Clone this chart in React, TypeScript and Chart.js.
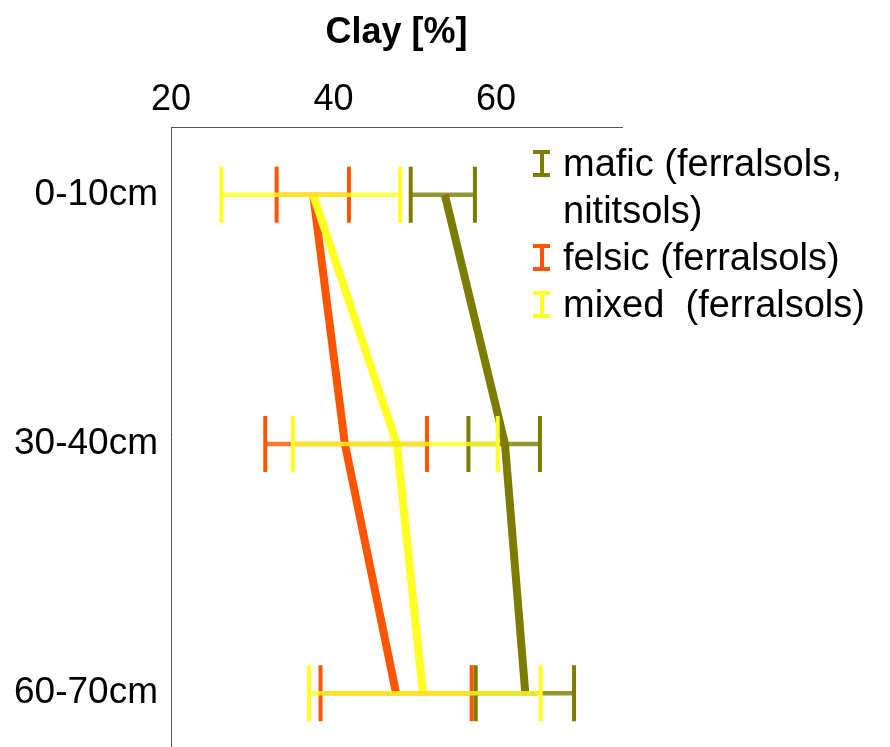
import React, { useEffect, useRef } from 'react';
import { Chart, registerables } from 'chart.js';

Chart.register(...registerables);

const depthLabels = ['0-10cm', '30-40cm', '60-70cm'];
const clayTicks = [20, 40, 60];
const depthTickIndex = [0, 1, 2];

const maficMean = [53.7, 61.1, 63.6];
const maficLow = [49.5, 56.6, 57.5];
const maficHigh = [57.4, 65.4, 69.6];

const felsicMean = [37.5, 41.4, 47.7];
const felsicLow = [33.0, 31.6, 38.4];
const felsicHigh = [41.9, 51.5, 57.0];

const mixedMean = [37.5, 47.8, 51.0];
const mixedLow = [26.2, 35.0, 37.0];
const mixedHigh = [48.2, 60.2, 65.5];

const legendLines = ['mafic (ferralsols,', 'nititsols)', 'felsic (ferralsols)', 'mixed  (ferralsols)'];

const OLIVE = '#7C7C00';
const ORANGE = '#FF5500';
const YELLOW = '#FFFF22';

const FONT = "'Liberation Sans', Arial, sans-serif";

export default function App() {
  const ref = useRef<HTMLCanvasElement>(null);

  useEffect(() => {
    const errorBars = {
      id: 'errorBars',
      afterDatasetsDraw(chart: any) {
        const ctx = chart.ctx;
        const xs = chart.scales.x;
        const ys = chart.scales.y;
        const drawOrder = [1, 0, 2];
        ctx.save();
        drawOrder.forEach((di) => {
          const ds: any = chart.data.datasets[di];
          const lows: number[] = ds.errLow;
          const highs: number[] = ds.errHigh;
          lows.forEach((lo, i) => {
            const y = ys.getPixelForValue(i);
            const xl = xs.getPixelForValue(lo);
            const xh = xs.getPixelForValue(highs[i]);
            ctx.strokeStyle = ds.borderColor;
            ctx.lineCap = 'butt';
            ctx.globalAlpha = 0.8;
            ctx.lineWidth = 4.5;
            ctx.beginPath();
            ctx.moveTo(xl, y);
            ctx.lineTo(xh, y);
            ctx.stroke();
            ctx.globalAlpha = 1;
            ctx.lineWidth = 4;
            ctx.beginPath();
            ctx.moveTo(xl, y - 28);
            ctx.lineTo(xl, y + 28);
            ctx.moveTo(xh, y - 28);
            ctx.lineTo(xh, y + 28);
            ctx.stroke();
          });
        });
        ctx.restore();
      },
    };

    const mk = (label: string, mean: number[], lo: number[], hi: number[], color: string, order: number) => ({
      label,
      data: mean.map((m, i) => ({ x: m, y: i })),
      borderColor: color,
      backgroundColor: color,
      borderWidth: 8,
      pointRadius: 0,
      pointHoverRadius: 0,
      tension: 0,
      fill: false,
      borderJoinStyle: 'round',
      order,
      errLow: lo,
      errHigh: hi,
    });

    const zeroPad = (s: any) => {
      s.paddingTop = 0;
      s.paddingBottom = 0;
      s.paddingLeft = 0;
      s.paddingRight = 0;
    };

    const chart = new Chart(ref.current as HTMLCanvasElement, {
      type: 'line',
      data: {
        datasets: [
          mk('mafic (ferralsols, nititsols)', maficMean, maficLow, maficHigh, OLIVE, 2),
          mk('felsic (ferralsols)', felsicMean, felsicLow, felsicHigh, ORANGE, 1),
          mk('mixed (ferralsols)', mixedMean, mixedLow, mixedHigh, YELLOW, 0),
        ] as any,
      },
      options: {
        responsive: false,
        animation: false,
        layout: { padding: { top: 0, left: 0, right: 268, bottom: 0 } },
        plugins: { legend: { display: false }, tooltip: { enabled: false } },
        scales: {
          x: {
            type: 'linear',
            position: 'top',
            min: 20,
            max: 75.5,
            afterBuildTicks: (s: any) => {
              s.ticks = clayTicks.map((v) => ({ value: v }));
            },
            afterFit: (s: any) => {
              s.height = 127;
              zeroPad(s);
            },
            grid: { display: false, drawTicks: false },
            border: { display: true, color: '#555555', width: 1 },
            ticks: { color: '#000', padding: 5, font: { family: FONT, size: 36 }, maxRotation: 0 },
            title: {
              display: true,
              text: 'Clay [%]',
              color: '#000',
              padding: { top: 11, bottom: 0 },
              font: { family: FONT, size: 36, weight: 'bold' },
            },
          },
          y: {
            type: 'linear',
            reverse: true,
            min: -0.272,
            max: 2.216,
            afterBuildTicks: (s: any) => {
              s.ticks = depthTickIndex.map((v) => ({ value: v }));
            },
            afterFit: (s: any) => {
              s.width = 171;
              zeroPad(s);
            },
            grid: { display: false, drawTicks: false },
            border: { display: true, color: '#555555', width: 1 },
            ticks: {
              color: '#000',
              padding: 13,
              font: { family: FONT, size: 37 },
              callback: (v: any) => depthLabels[Math.round(Number(v))] ?? '',
            },
          },
        },
      } as any,
      plugins: [errorBars],
    });
    return () => chart.destroy();
  }, []);

  const baselines = [177, 224, 271, 318];
  const markerRows = [
    { row: 0, color: OLIVE },
    { row: 2, color: ORANGE },
    { row: 3, color: YELLOW },
  ];

  return (
    <div style={{ position: 'fixed', left: 0, top: 0, width: 890, height: 747, background: '#fff', overflow: 'hidden' }}>
      <canvas ref={ref} width={890} height={747} style={{ display: 'block' }} />
      <div
        style={{
          position: 'absolute',
          left: 563,
          top: 140,
          fontFamily: FONT,
          fontSize: 38,
          lineHeight: '47px',
          color: '#000',
          whiteSpace: 'pre',
        }}
      >
        {legendLines.map((t, i) => (
          <div key={i}>{t}</div>
        ))}
      </div>
      {markerRows.map((m) => (
        <div
          key={m.row}
          style={{ position: 'absolute', left: 533, top: baselines[m.row] - 27, width: 17, height: 27 }}
        >
          <div style={{ position: 'absolute', left: 0, top: 0, width: 17, height: 4, background: m.color }} />
          <div style={{ position: 'absolute', left: 0, bottom: 0, width: 17, height: 4, background: m.color }} />
          <div style={{ position: 'absolute', left: 6.5, top: 0, width: 4, height: 27, background: m.color }} />
        </div>
      ))}
    </div>
  );
}
